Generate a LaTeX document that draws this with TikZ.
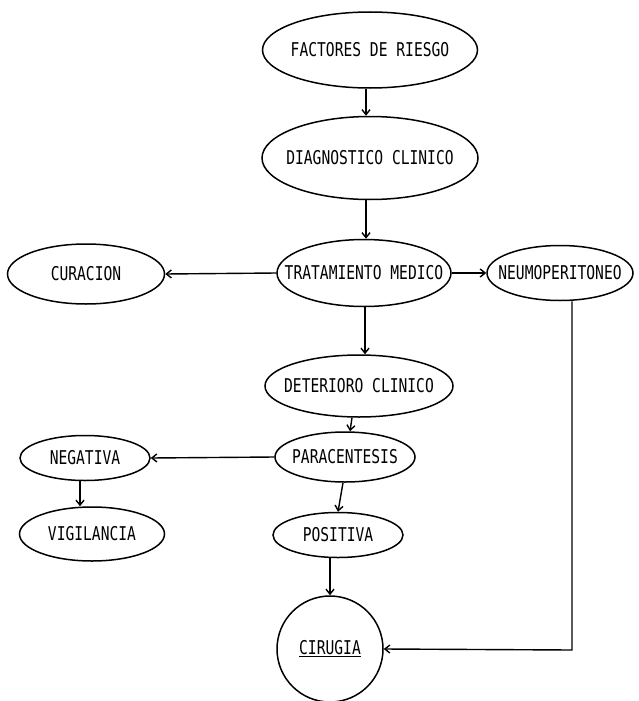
\documentclass[tikz,border=0pt]{standalone}
\usepackage{fontspec}
\newfontfamily\diagfont[FakeStretch=0.77]{DejaVu Sans Mono}
\usetikzlibrary{shapes.geometric,arrows.meta}
\begin{document}
\begin{tikzpicture}[x=1pt,y=-1pt,
  txt/.style={font=\diagfont\fontsize{19}{19}\selectfont,inner sep=0pt},
  oval/.style={ellipse,draw,line width=1.5pt,inner sep=0pt},
  rnd/.style={circle,draw,line width=1.5pt,inner sep=0pt,minimum size=106pt},
  arr/.style={line width=1.4pt,-{Straight Barb[length=5pt,width=8pt,line width=1.4pt]}}]
\useasboundingbox (0,0) rectangle (638,701);
\node[oval,minimum width=215pt,minimum height=76pt] (fr) at (370,50) {};
\node[txt] (frt) at (fr) {FACTORES DE RIESGO};
\node[oval,minimum width=216pt,minimum height=83pt] (dc) at (370,158) {};
\node[txt] (dct) at (dc) {DIAGNOSTICO CLINICO};
\node[oval,minimum width=174pt,minimum height=67pt] (tm) at (364,273) {};
\node[txt] (tmt) at (tm) {TRATAMIENTO MEDICO};
\node[oval,minimum width=157pt,minimum height=60pt] (cu) at (86,274) {};
\node[txt] (cut) at (cu) {CURACION};
\node[oval,minimum width=146pt,minimum height=55pt] (ne) at (560,273) {};
\node[txt] (net) at (ne) {NEUMOPERITONEO};
\node[oval,minimum width=188pt,minimum height=62pt] (de) at (359,386) {};
\node[txt] (det) at (de) {DETERIORO CLINICO};
\node[oval,minimum width=140pt,minimum height=50pt] (pa) at (345,457) {};
\node[txt] (pat) at (pa) {PARACENTESIS};
\node[oval,minimum width=130pt,minimum height=45pt] (ng) at (85,458) {};
\node[txt] (ngt) at (ng) {NEGATIVA};
\node[oval,minimum width=145pt,minimum height=54pt] (vi) at (92,534) {};
\node[txt] (vit) at (vi) {VIGILANCIA};
\node[oval,minimum width=130pt,minimum height=45pt] (po) at (338,535) {};
\node[txt] (pot) at (po) {POSITIVA};
\node[rnd] (ci) at (330,649) {};
\node[txt] (cit) at (ci) {\underline{CIRUGIA}};
\coordinate (corner) at (572,650);
\draw[arr] (fr.south -| 366,0) -- (dc.north -| 366,0);
\draw[arr] (dc.south -| 366,0) -- (tm.north -| 366,0);
\draw[arr] (tm.west) -- (cu.east);
\draw[arr] (tm.east) -- (ne.west);
\draw[arr] (tm.south -| 365,0) -- (de.north -| 365,0);
\draw[arr] (de.south -| 352,0) -- (pa.north -| 350,0);
\draw[arr] (pa.south -| 343,0) -- (po.north -| 338,0);
\draw[arr] (po.south -| 330,0) -- (ci.north);
\draw[arr] (pa.west) -- (ng.east);
\draw[arr] (ng.south -| 80,0) -- (vi.north -| 80,0);
\draw[arr] (ne.south -| corner) -- (corner) -- (ci.east);
\end{tikzpicture}
\end{document}
